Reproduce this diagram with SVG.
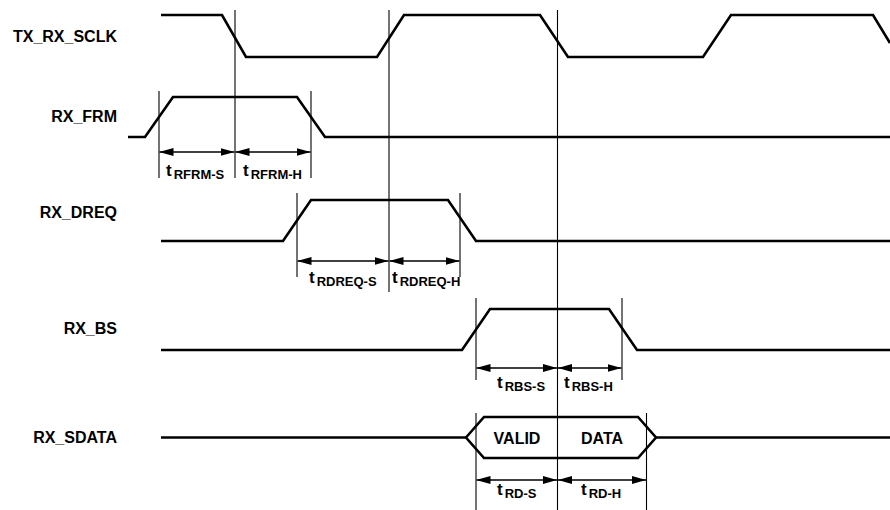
<svg xmlns="http://www.w3.org/2000/svg" width="890" height="510" viewBox="0 0 890 510">
<style>
.sig{fill:none;stroke:#000;stroke-width:2.6;stroke-linejoin:miter}
.ref{stroke:#000;stroke-width:1.1}
.dim{stroke:#000;stroke-width:1.5;marker-start:url(#ah);marker-end:url(#ah)}
.lbl{font-family:"Liberation Sans",Arial,sans-serif;font-weight:bold;font-size:16px;fill:#000}
.t{font-family:"Liberation Sans",Arial,sans-serif;font-weight:bold;font-size:17px;fill:#000}
.sub{font-size:13px}
</style>
<defs>
<marker id="ah" viewBox="0 0 14 8" refX="14" refY="4" markerWidth="14" markerHeight="8" markerUnits="userSpaceOnUse" orient="auto-start-reverse">
<path d="M0,0 L14,4 L0,8 Z" fill="#000"/>
</marker>
</defs>
<rect width="890" height="510" fill="#fff"/>

<g id="sig-sclk">
<text class="lbl" x="117" y="42" text-anchor="end">TX_RX_SCLK</text>
<polyline class="sig" points="161,15 222,15 246,57 377,57 404,15 540,15 568,57 703,57 731,15 873,15 890,43"/>
</g>
<g id="sig-frm">
<text class="lbl" x="117" y="122" text-anchor="end">RX_FRM</text>
<polyline class="sig" points="128,137 145,137 173,97 297,97 325,137 890,137"/>
</g>
<g id="sig-dreq">
<text class="lbl" x="117" y="218" text-anchor="end">RX_DREQ</text>
<polyline class="sig" points="161,241 283,241 311,200 448,200 476,241 890,241"/>
</g>
<g id="sig-bs">
<text class="lbl" x="117" y="334" text-anchor="end">RX_BS</text>
<polyline class="sig" points="161,350 462,350 490,309 609,309 637,350 890,350"/>
</g>
<g id="sig-sdata">
<text class="lbl" x="117" y="443" text-anchor="end">RX_SDATA</text>
<line class="sig" x1="161" y1="437.5" x2="466" y2="437.5"/>
<polygon class="sig" points="466,437.5 484,417 638,417 656,437.5 638,458 484,458"/>
<line class="sig" x1="656" y1="437.5" x2="890" y2="437.5"/>
<text class="lbl" x="517" y="444" text-anchor="middle">VALID</text>
<text class="lbl" x="602" y="444" text-anchor="middle">DATA</text>
</g>

<g id="connectors">
<line class="ref" x1="235" y1="10" x2="235" y2="178"/>
<line class="ref" x1="389" y1="10" x2="389" y2="292"/>
<line class="ref" x1="557.5" y1="10" x2="557.5" y2="510"/>
<line class="ref" x1="159" y1="91" x2="159" y2="178"/>
<line class="ref" x1="311" y1="91" x2="311" y2="178"/>
<line class="ref" x1="297" y1="193" x2="297" y2="277"/>
<line class="ref" x1="460" y1="193" x2="460" y2="277"/>
<line class="ref" x1="476" y1="298" x2="476" y2="380"/>
<line class="ref" x1="622" y1="298" x2="622" y2="380"/>
<line class="ref" x1="476" y1="413" x2="476" y2="510"/>
<line class="ref" x1="646.5" y1="413" x2="646.5" y2="510"/>

<line class="dim" x1="159.5" y1="152" x2="234.5" y2="152"/>
<line class="dim" x1="235.5" y1="152" x2="310.5" y2="152"/>
<line class="dim" x1="297.5" y1="261" x2="388.5" y2="261"/>
<line class="dim" x1="389.5" y1="261" x2="459.5" y2="261"/>
<line class="dim" x1="476.5" y1="368" x2="557" y2="368"/>
<line class="dim" x1="558" y1="368" x2="621.5" y2="368"/>
<line class="dim" x1="476.5" y1="480" x2="557" y2="480"/>
<line class="dim" x1="558" y1="480" x2="646" y2="480"/>
</g>

<g id="labels">
<text class="t" x="166" y="176">t<tspan class="sub" dy="3" dx="2">RFRM-S</tspan></text>
<text class="t" x="243" y="176">t<tspan class="sub" dy="3" dx="2">RFRM-H</tspan></text>
<text class="t" x="309" y="283">t<tspan class="sub" dy="3" dx="2">RDREQ-S</tspan></text>
<text class="t" x="392" y="283">t<tspan class="sub" dy="3" dx="2">RDREQ-H</tspan></text>
<text class="t" x="497" y="388">t<tspan class="sub" dy="3" dx="2">RBS-S</tspan></text>
<text class="t" x="564" y="388">t<tspan class="sub" dy="3" dx="2">RBS-H</tspan></text>
<text class="t" x="497" y="495">t<tspan class="sub" dy="3" dx="2">RD-S</tspan></text>
<text class="t" x="581" y="495">t<tspan class="sub" dy="3" dx="2">RD-H</tspan></text>
</g>
</svg>
